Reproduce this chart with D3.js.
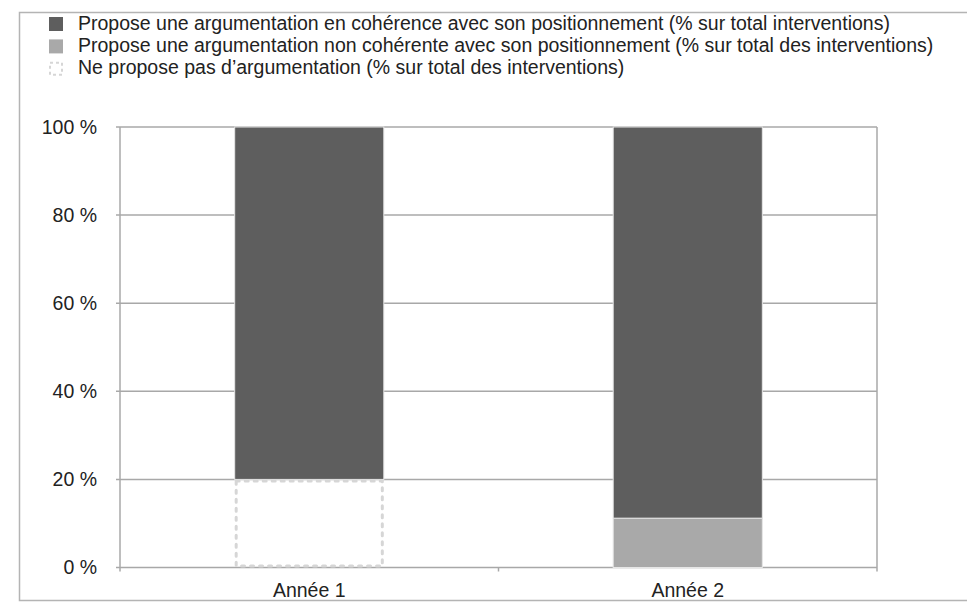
<!DOCTYPE html>
<html>
<head>
<meta charset="utf-8">
<script src="https://cdn.jsdelivr.net/npm/d3@7/dist/d3.min.js"></script>
<style>
  body { margin: 0; background: #fff; }
  text { font-family: "Liberation Sans", Arial, sans-serif; fill: #222; }
</style>
</head>
<body>
<svg width="967" height="604"></svg>
<script>
var categories = ["Année 1", "Année 2"];
var coherent = [80, 88.8];
var nonCoherent = [0, 11.2];
var noArgument = [20, 0];
var yTicks = [0, 20, 40, 60, 80, 100];
var legendLabels = [
    "Propose une argumentation en cohérence avec son positionnement (% sur total interventions)",
    "Propose une argumentation non cohérente avec son positionnement (% sur total des interventions)",
    "Ne propose pas d\u2019argumentation (% sur total des interventions)"
];

var svg = d3.select("svg"),
    margin = {top: 127, right: 90, bottom: 36.5, left: 120},
    width = +svg.attr("width") - margin.left - margin.right,
    height = +svg.attr("height") - margin.top - margin.bottom;

var gridColor = "#a8a8a8";

// outer frame (open on the right)
svg.append("path")
    .attr("d", "M967,12.5 H19.5 V600.5 H967")
    .attr("fill", "none")
    .attr("stroke", "#b4b4b4")
    .attr("stroke-width", 1.5);

var rows = categories.map(function(c, i) {
    return {cat: c, none: noArgument[i], non: nonCoherent[i], coh: coherent[i]};
});

var stack = d3.stack().keys(["none", "non", "coh"]);
var series = stack(rows);

var x = d3.scaleBand().domain(categories).range([0, width]).paddingInner(0.606).paddingOuter(0.303);
var xb = d3.scaleBand().domain(categories).range([0, width]);
var y = d3.scaleLinear().domain([0, 100]).range([height, 0]);

var g = svg.append("g")
    .attr("transform", "translate(" + margin.left + "," + margin.top + ")");

// grid lines
g.selectAll("line.grid")
    .data(yTicks)
    .enter().append("line")
    .attr("class", "grid")
    .attr("x1", -4).attr("x2", width)
    .attr("y1", function(d) { return y(d); })
    .attr("y2", function(d) { return y(d); })
    .attr("stroke", gridColor)
    .attr("stroke-width", 1.5);

// left and right vertical lines
g.append("line").attr("x1", 0).attr("x2", 0).attr("y1", 0).attr("y2", height + 4)
    .attr("stroke", gridColor).attr("stroke-width", 1.5);
g.append("line").attr("x1", width).attr("x2", width).attr("y1", 0).attr("y2", height + 4)
    .attr("stroke", gridColor).attr("stroke-width", 1.5);

// middle category tick
g.selectAll("line.ctick")
    .data(categories.slice(1))
    .enter().append("line")
    .attr("class", "ctick")
    .attr("x1", function(d) { return xb(d); })
    .attr("x2", function(d) { return xb(d); })
    .attr("y1", height).attr("y2", height + 4)
    .attr("stroke", gridColor).attr("stroke-width", 1.5);

var fills = {none: "#ffffff", non: "#a9a9a9", coh: "#5e5e5e"};

series.forEach(function(s) {
    var layer = g.append("g");
    s.forEach(function(d) {
        if (d[1] - d[0] <= 0) return;
        var rx = x(d.data.cat), ry = y(d[1]), rw = x.bandwidth(), rh = y(d[0]) - y(d[1]);
        if (s.key === "none") {
            layer.append("rect")
                .attr("x", rx + 1.5).attr("y", ry + 1.5)
                .attr("width", rw - 3).attr("height", rh - 3)
                .attr("fill", "#fff")
                .attr("stroke", "#d6d6d6")
                .attr("stroke-width", 3)
                .attr("stroke-linecap", "round")
                .attr("stroke-dasharray", "3,6");
        } else {
            layer.append("rect")
                .attr("x", rx).attr("y", ry)
                .attr("width", rw).attr("height", rh)
                .attr("fill", fills[s.key])
                .attr("stroke", "#e6e6e6")
                .attr("stroke-width", 1);
        }
    });
});

// y labels
g.selectAll("text.ylab")
    .data(yTicks)
    .enter().append("text")
    .attr("class", "ylab")
    .attr("x", -23)
    .attr("y", function(d) { return y(d); })
    .attr("dy", "0.35em")
    .attr("text-anchor", "end")
    .style("font-size", "19.5px")
    .text(function(d) { return d + " %"; });

// x labels
g.selectAll("text.xlab")
    .data(categories)
    .enter().append("text")
    .attr("class", "xlab")
    .attr("x", function(d) { return x(d) + x.bandwidth() / 2; })
    .attr("y", height + 29)
    .attr("text-anchor", "middle")
    .style("font-size", "19.5px")
    .text(function(d) { return d; });

// legend
var legend = svg.append("g").attr("transform", "translate(49,17)");
var legendFills = ["#5e5e5e", "#a9a9a9", null];
legendLabels.forEach(function(label, i) {
    var row = legend.append("g").attr("transform", "translate(0," + (i * 22.4) + ")");
    if (legendFills[i]) {
        row.append("rect").attr("width", 14).attr("height", 14).attr("fill", legendFills[i]);
    } else {
        row.append("rect").attr("x", 1).attr("y", 1).attr("width", 12).attr("height", 12)
            .attr("fill", "#fff").attr("stroke", "#d6d6d6").attr("stroke-width", 2)
            .attr("stroke-dasharray", "3,3");
    }
    row.append("text")
        .attr("x", 29).attr("y", 12.5)
        .style("font-size", "19.5px")
        .text(label);
});
</script>
</body>
</html>
